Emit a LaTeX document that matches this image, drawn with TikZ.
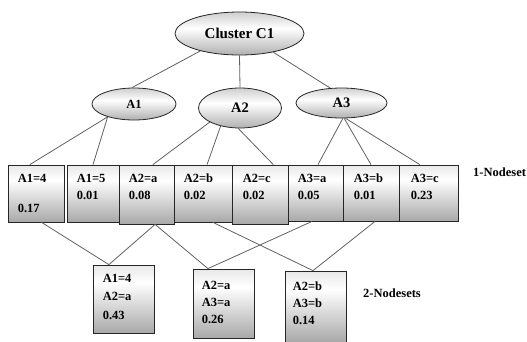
\documentclass[tikz,border=0pt]{standalone}
\usepackage{fontspec}
\setmainfont{Liberation Serif}
\usetikzlibrary{shapes.geometric}
\pgfdeclareverticalshading{boxshade}{100bp}{color(0bp)=(gray!68); color(25bp)=(gray!68); color(62bp)=(white); color(75bp)=(gray!18); color(100bp)=(gray!18)}
\pgfdeclareverticalshading{ellshade}{100bp}{color(0bp)=(gray!62); color(25bp)=(gray!62); color(56bp)=(white); color(75bp)=(gray!38); color(100bp)=(gray!38)}
\tikzset{
  attr/.style={ellipse,draw=black!85,line width=0.8pt,shade,shading=ellshade,inner sep=0pt,font=\bfseries\fontsize{14.5}{16}\selectfont},
  cell/.style={rectangle,draw=black!85,line width=0.8pt,shade,shading=boxshade,inner sep=0pt},
  celltext/.style={anchor=north west,inner sep=0pt,align=left,font=\bfseries\fontsize{12.5}{17}\selectfont},
  link/.style={draw=black!62,line width=0.8pt},
  setname/.style={anchor=west,inner sep=0pt,font=\bfseries\fontsize{12.5}{15}\selectfont}
}
\begin{document}
\begin{tikzpicture}[x=1pt,y=-1pt]
	\useasboundingbox (0,0) rectangle (527,341) ;
	\node[attr,minimum width=129pt,minimum height=43pt,font=\bfseries\fontsize{15}{17}\selectfont] (c1) at (239.5,33.5) {Cluster C1} ;
	\node[attr,minimum width=84pt,minimum height=32pt,font=\bfseries\fontsize{12.5}{14}\selectfont] (a1) at (134,104) {A1} ;
	\node[attr,minimum width=83pt,minimum height=40pt] (a2) at (240,108) {A2} ;
	\node[attr,minimum width=91pt,minimum height=30pt] (a3) at (341.5,103) {A3} ;
	\node[cell,minimum width=56pt,minimum height=57pt] (b1) at (36,193.5) {} ;
	\node[cell,minimum width=52pt,minimum height=57pt] (b2) at (93,193.5) {} ;
	\node[cell,minimum width=55pt,minimum height=59pt] (b3) at (146.5,194.5) {} ;
	\node[cell,minimum width=58pt,minimum height=57pt] (b4) at (203,193.5) {} ;
	\node[cell,minimum width=56pt,minimum height=59pt] (b5) at (260,194.5) {} ;
	\node[cell,minimum width=55pt,minimum height=56pt] (b6) at (315.5,193) {} ;
	\node[cell,minimum width=56pt,minimum height=56pt] (b7) at (371,193) {} ;
	\node[cell,minimum width=59pt,minimum height=56pt] (b8) at (428.5,193) {} ;
	\node[cell,minimum width=61pt,minimum height=68pt] (bA) at (123.5,299) {} ;
	\node[cell,minimum width=61pt,minimum height=69pt] (bB) at (223.5,303.5) {} ;
	\node[cell,minimum width=61pt,minimum height=71pt] (bC) at (315.5,306.5) {} ;
	\node[celltext] (t1) at ([shift={(10,9)}]b1.north west) {A1=4\\[13pt]0.17} ;
	\node[celltext] (t2) at ([shift={(10,9)}]b2.north west) {A1=5\\0.01} ;
	\node[celltext] (t3) at ([shift={(10,9)}]b3.north west) {A2=a\\0.08} ;
	\node[celltext] (t4) at ([shift={(10,9)}]b4.north west) {A2=b\\0.02} ;
	\node[celltext] (t5) at ([shift={(11,9)}]b5.north west) {A2=c\\0.02} ;
	\node[celltext] (t6) at ([shift={(10,9)}]b6.north west) {A3=a\\0.05} ;
	\node[celltext] (t7) at ([shift={(11,9)}]b7.north west) {A3=b\\0.01} ;
	\node[celltext] (t8) at ([shift={(12,9)}]b8.north west) {A3=c\\0.23} ;
	\node[celltext] (tA) at ([shift={(10,9)}]bA.north west) {A1=4\\[1.5pt]A2=a\\[1.5pt]0.43} ;
	\node[celltext] (tB) at ([shift={(9,12)}]bB.north west) {A2=a\\A3=a\\0.26} ;
	\node[celltext] (tC) at ([shift={(8,11)}]bC.north west) {A2=b\\A3=b\\0.14} ;
	\node[setname] (n1) at (473,172) {1-Nodeset} ;
	\node[setname] (n2) at (363,293) {2-Nodesets} ;
	\draw[link] (c1.204) -- (a1.97) (c1.south) -- (a2.north) (c1.331) -- (a3.127) ;
	\draw[link] (a1.206) -- (b1.102) (a1.206) -- (b2.north) ;
	\draw[link] (a2.205) -- (b3.78) (a2.223) -- (b4.82) (a2.265) -- (b5.66) ;
	\draw[link] (a3.275) -- (b6.85) (a3.280) -- (b7.north) (a3.285) -- (b8.107) ;
	\draw[link] (b1.-79) -- (bA.113) (b3.-74) -- (bA.113) (b3.-74) -- (bB.114) (b6.-97) -- (bB.114) (b4.-71) -- (bC.94) (b7.-82) -- (bC.94) ;
\end{tikzpicture}
\end{document}
